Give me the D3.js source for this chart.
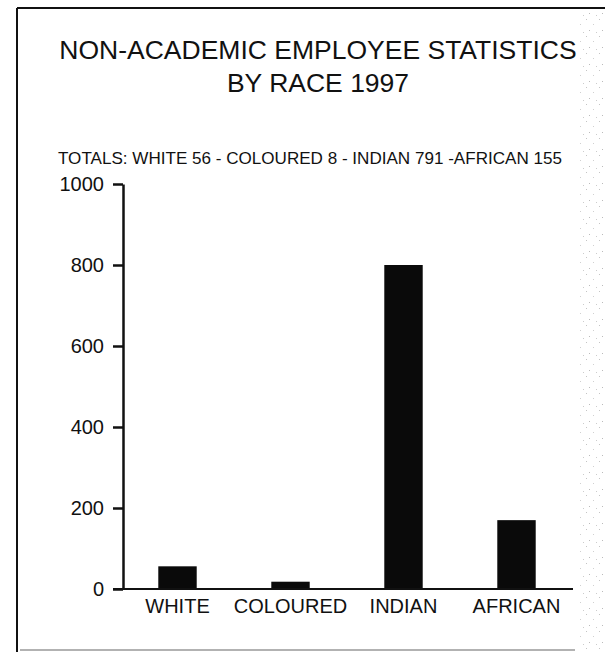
<!DOCTYPE html>
<html>
<head>
<meta charset="utf-8">
<script src="https://cdn.jsdelivr.net/npm/d3@7"></script>
<style>
  body { margin: 0; background: #fff; }
  text { font-family: "Liberation Sans", Arial, sans-serif; fill: #111; }
</style>
</head>
<body>
<div id="chart"></div>
<script>
// values
var races = ["WHITE", "COLOURED", "INDIAN", "AFRICAN"]
var counts = [56, 18, 800, 170]
var yTicks = [0, 200, 400, 600, 800, 1000]
var titleLines = ["NON-ACADEMIC EMPLOYEE STATISTICS", "BY RACE 1997"]
var totalsLine = "TOTALS: WHITE 56 - COLOURED 8 - INDIAN 791 -AFRICAN 155"

var width = 605, height = 652

var svg = d3.select("#chart").append("svg")
    .attr("width", width)
    .attr("height", height)

// scanned page frame
svg.append("line").attr("x1", 17).attr("y1", 8).attr("x2", 605).attr("y2", 8)
    .style("stroke", "#111").style("stroke-width", 2)
svg.append("line").attr("x1", 17).attr("y1", 8).attr("x2", 17).attr("y2", 652)
    .style("stroke", "#111").style("stroke-width", 2)
svg.append("line").attr("x1", 20).attr("y1", 650).attr("x2", 575).attr("y2", 650)
    .style("stroke", "#999").style("stroke-width", 1.5)

// speckled scan edge on the right
var defs = svg.append("defs")
var pat = defs.append("pattern").attr("id", "speckle")
    .attr("width", 13).attr("height", 17).attr("patternUnits", "userSpaceOnUse")
pat.append("rect").attr("x", 1).attr("y", 2).attr("width", 1).attr("height", 1).attr("fill", "#c4c4c4")
pat.append("rect").attr("x", 8).attr("y", 7).attr("width", 1).attr("height", 1).attr("fill", "#d0d0d0")
pat.append("rect").attr("x", 4).attr("y", 13).attr("width", 1).attr("height", 1).attr("fill", "#bbb")
pat.append("rect").attr("x", 11).attr("y", 15).attr("width", 1).attr("height", 1).attr("fill", "#ccc")
svg.append("rect").attr("x", 578).attr("y", 10).attr("width", 27).attr("height", 642)
    .attr("fill", "url(#speckle)")

// title
svg.selectAll(".title")
    .data(titleLines)
    .enter()
    .append("text")
    .attr("class", "title")
    .attr("x", 318)
    .attr("y", function(d, i) { return 59 + i * 33 })
    .attr("text-anchor", "middle")
    .style("font-size", "26.5px")
    .text(function(d) { return d })

svg.append("text")
    .attr("x", 58)
    .attr("y", 164)
    .attr("textLength", 504)
    .attr("lengthAdjust", "spacingAndGlyphs")
    .style("font-size", "16.5px")
    .text(totalsLine)

var x = d3.scaleBand()
    .domain(races)
    .range([121, 573])
    .paddingInner(0.66)
    .paddingOuter(0.33)

var y = d3.scaleLinear()
    .domain([0, 1000])
    .range([589, 184])

// bars
svg.selectAll(".bar")
    .data(races)
    .enter()
    .append("rect")
    .attr("class", "bar")
    .attr("x", function(d) { return x(d) })
    .attr("width", x.bandwidth())
    .attr("y", function(d, i) { return y(counts[i]) })
    .attr("height", function(d, i) { return y(0) - y(counts[i]) })
    .attr("fill", "#0a0a0a")

// y axis
var yAxis = svg.append("g")
    .attr("transform", "translate(123,0)")
    .call(d3.axisLeft(y).tickValues(yTicks).tickFormat(d3.format("d"))
        .tickSize(10).tickSizeOuter(0).tickPadding(9))
yAxis.select(".domain").style("stroke", "#111").style("stroke-width", 2.5)
yAxis.selectAll(".tick line").style("stroke", "#111").style("stroke-width", 2.5)
yAxis.selectAll(".tick text")
    .style("font-size", "20px")
    .style("font-family", "'Liberation Sans', Arial, sans-serif")
    .attr("fill", "#111")

// x axis
var xAxis = svg.append("g")
    .attr("transform", "translate(0," + y(0) + ")")
    .call(d3.axisBottom(x).tickSize(0).tickSizeOuter(0).tickPadding(10))
xAxis.select(".domain").attr("d", "M113,0H573").style("stroke", "#111").style("stroke-width", 2)
xAxis.selectAll(".tick text")
    .style("font-size", "20px")
    .style("font-family", "'Liberation Sans', Arial, sans-serif")
    .attr("fill", "#111")
</script>
</body>
</html>
